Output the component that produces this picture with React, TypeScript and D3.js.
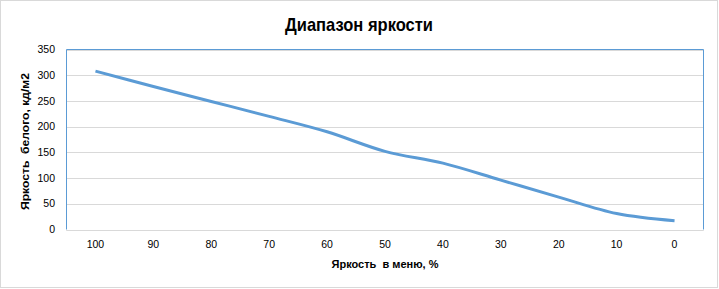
import React from "react";
import * as d3 from "d3";

const title = "Диапазон яркости";
const xTitle = "Яркость  в меню, %";
const yTitle = "Яркость  белого, кд/м2";
const categories = ["100", "90", "80", "70", "60", "50", "40", "30", "20", "10", "0"];
const brightness = [308, 278, 249, 220, 190, 152, 129, 96, 63, 31, 17];
const yTicks = [0, 50, 100, 150, 200, 250, 300, 350];

const W = 719;
const H = 289;
const plot = { left: 66.5, right: 703.5, top: 49.5, bottom: 229.5 };
const FONT = "'Liberation Sans', Arial, sans-serif";

export default function App() {
  const x = d3.scaleBand<string>().domain(categories).range([plot.left, plot.right]).padding(0);
  const y = d3.scaleLinear().domain([0, 350]).range([plot.bottom, plot.top]);
  const cx = (c: string) => (x(c) ?? 0) + x.bandwidth() / 2;

  const line = d3
    .line<number>()
    .x((_, i) => cx(categories[i]))
    .y((d) => y(d))
    .curve(d3.curveCardinal.tension(0));

  const yMid = (plot.top + plot.bottom) / 2 + 2;
  const xMid = (plot.left + plot.right) / 2;

  return (
    <svg
      width={W}
      height={H}
      style={{ position: "absolute", left: 0, top: 0, background: "#fff" }}
      fontFamily={FONT}
    >
      <rect x={0} y={0} width={W} height={H} fill="#fff" />
      <rect x={0.5} y={0.5} width={717} height={287} fill="none" stroke="#d9d9d9" />

      <text
        x={285}
        y={31}
        fontSize={19}
        fontWeight="bold"
        textLength={148}
        lengthAdjust="spacingAndGlyphs"
        fill="#000"
      >
        {title}
      </text>

      {yTicks.map((t) => (
        <line
          key={"g" + t}
          x1={plot.left}
          x2={plot.right}
          y1={Math.round(y(t)) + 0.5}
          y2={Math.round(y(t)) + 0.5}
          stroke="#d9d9d9"
          strokeWidth={1}
        />
      ))}

      <line x1={plot.left} x2={plot.left} y1={plot.top} y2={plot.bottom} stroke="#5b9bd5" strokeWidth={1} />
      <line x1={plot.right} x2={plot.right} y1={plot.top} y2={plot.bottom} stroke="#5b9bd5" strokeWidth={1} />
      <line x1={plot.left} x2={plot.right} y1={plot.top} y2={plot.top} stroke="#5b9bd5" strokeWidth={1} />
      <line
        x1={plot.left}
        x2={plot.right}
        y1={Math.round(y(0)) + 0.5}
        y2={Math.round(y(0)) + 0.5}
        stroke="#d9d9d9"
        strokeWidth={1}
      />

      {yTicks.map((t) => (
        <text key={"yl" + t} x={55} y={y(t) + 3.7} fontSize={10.5} textAnchor="end" fill="#000">
          {t}
        </text>
      ))}

      {categories.map((c) => (
        <text key={"xl" + c} x={cx(c)} y={247.5} fontSize={10.5} textAnchor="middle" fill="#000">
          {c}
        </text>
      ))}

      <path
        d={line(brightness) ?? ""}
        fill="none"
        stroke="#5b9bd5"
        strokeWidth={3}
        strokeLinejoin="round"
        strokeLinecap="butt"
      />

      <text
        x={xMid}
        y={267.7}
        fontSize={11}
        fontWeight="bold"
        textAnchor="middle"
        textLength={107}
        lengthAdjust="spacingAndGlyphs"
        fill="#000"
        style={{ whiteSpace: "pre" }}
      >
        {xTitle}
      </text>

      <text
        transform={`translate(29.3, ${yMid}) rotate(-90)`}
        x={0}
        y={0}
        fontSize={11}
        fontWeight="bold"
        textAnchor="middle"
        textLength={137}
        lengthAdjust="spacingAndGlyphs"
        fill="#000"
        style={{ whiteSpace: "pre" }}
      >
        {yTitle}
      </text>
    </svg>
  );
}
